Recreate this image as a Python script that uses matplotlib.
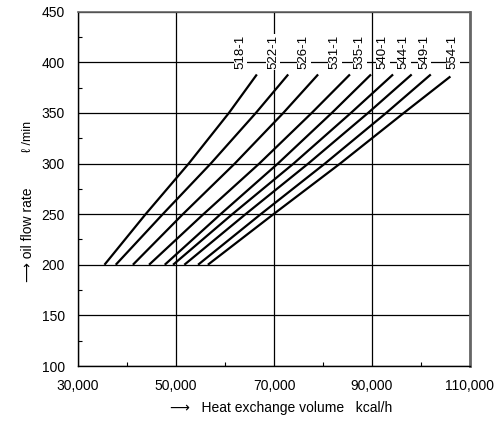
import matplotlib.pyplot as plt
from matplotlib.ticker import FixedLocator, MultipleLocator, StrMethodFormatter

plt.rcParams['font.family'] = ['Liberation Sans', 'DejaVu Sans']

# oil flow rate points (l/min)
flow = [200, 250, 300, 350, 388]
flow_554 = [200, 250, 300, 350, 386]

models = ["518-1", "522-1", "526-1", "531-1", "535-1",
          "540-1", "544-1", "549-1", "554-1"]

# heat exchange volume (kcal/h) at each flow point
heat = [
    [35400, 43800, 52600, 60800, 66500],
    [37700, 47300, 57100, 66300, 72900],
    [41200, 51400, 62000, 71900, 79000],
    [44500, 55600, 67000, 77700, 85500],
    [47700, 59100, 70800, 81800, 89800],
    [49400, 61500, 74000, 85700, 94300],
    [51700, 64200, 77000, 89200, 98100],
    [54500, 67300, 80400, 92900, 102000],
    [56500, 69900, 83500, 96500, 106000],
]

x_ticks = [30000, 50000, 70000, 90000, 110000]
x_minor = [40000, 60000, 80000, 100000]

# where the model names sit
label_x = [63200, 69800, 76100, 82400, 87500, 92200, 96500, 100700, 106500]
label_y = 410

fig = plt.figure(figsize=(4.96, 4.21), dpi=100)
ax = fig.add_axes([78 / 496, 1 - 366 / 421, 392 / 496, 354.3 / 421])

for i, name in enumerate(models):
    ys = flow_554 if name == "554-1" else flow
    ax.plot(heat[i], ys, color="black", lw=1.6, solid_capstyle="butt", zorder=3)
    ax.text(label_x[i], label_y, name, rotation=90, ha="center", va="center",
            fontsize=9.5, zorder=4,
            bbox=dict(facecolor="white", edgecolor="none", pad=0.6))

ax.set_xlim(30000, 110000)
ax.set_ylim(100, 450)
ax.xaxis.set_major_locator(FixedLocator(x_ticks))
ax.xaxis.set_minor_locator(FixedLocator(x_minor))
ax.yaxis.set_major_locator(MultipleLocator(50))
ax.yaxis.set_minor_locator(MultipleLocator(25))
ax.xaxis.set_major_formatter(StrMethodFormatter("{x:,.0f}"))

ax.grid(True, which="major", color="black", lw=0.9, zorder=1)
ax.tick_params(which="major", length=0, labelsize=10, pad=9.5)
ax.tick_params(which="minor", direction="in", length=3, width=0.8, color="black")

for s in ["left", "bottom"]:
    ax.spines[s].set_color("black")
    ax.spines[s].set_linewidth(1.0)
ax.spines["top"].set_color("#666666")
ax.spines["top"].set_linewidth(1.2)
ax.spines["right"].set_color("#666666")
ax.spines["right"].set_linewidth(2.0)

ax.set_ylabel("⟶ oil flow rate", fontsize=10, va="center")
ax.yaxis.set_label_coords(-0.128, 0.37)
ax.text(-0.128, 0.648, "ℓ /min", transform=ax.transAxes, rotation=90,
        ha="center", va="center", fontsize=9)
ax.set_xlabel("⟶   Heat exchange volume   kcal/h", fontsize=10, va="center")
ax.xaxis.set_label_coords(0.518, -0.119)

fig.savefig("out.png", dpi=100)
